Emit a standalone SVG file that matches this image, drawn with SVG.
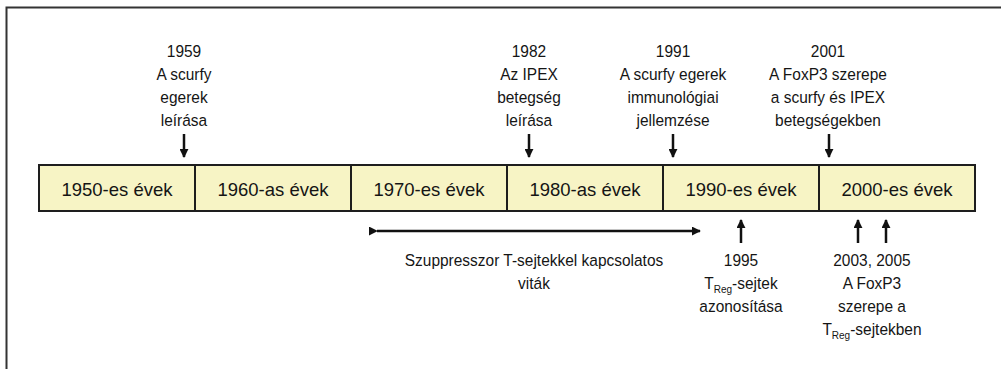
<svg xmlns="http://www.w3.org/2000/svg" width="1001" height="369" viewBox="0 0 1001 369">
<style>
text{font-family:"Liberation Sans",Arial,sans-serif;fill:#151515;text-anchor:middle}
.ann{font-size:17px}
.lbl{font-size:18.5px}
.sub{font-size:11px}
.cell{fill:#F7F4C5;stroke:#1e1e1e;stroke-width:2}
.conn{stroke:#111;stroke-width:2.5;fill:none}
.frame{stroke:#333;stroke-width:2;fill:none}
</style>
<defs>
<marker id="ah" viewBox="0 0 10 10" refX="9" refY="5" markerWidth="3.6" markerHeight="3.6" orient="auto" markerUnits="strokeWidth">
<path d="M0,0 L10,5 L0,10 z" fill="#111"/>
</marker>
</defs>
<rect width="1001" height="369" fill="#fff"/>
<path class="frame" d="M6.5,369 V7.5 H1001"/>
<g id="timeline">
<g id="c1950"><rect class="cell" x="39" y="165" width="156" height="46"/><text class="lbl" x="117" y="196">1950-es évek</text></g>
<g id="c1960"><rect class="cell" x="195" y="165" width="156" height="46"/><text class="lbl" x="273" y="196">1960-as évek</text></g>
<g id="c1970"><rect class="cell" x="351" y="165" width="156" height="46"/><text class="lbl" x="429" y="196">1970-es évek</text></g>
<g id="c1980"><rect class="cell" x="507" y="165" width="156" height="46"/><text class="lbl" x="585" y="196">1980-as évek</text></g>
<g id="c1990"><rect class="cell" x="663" y="165" width="156" height="46"/><text class="lbl" x="741" y="196">1990-es évek</text></g>
<g id="c2000"><rect class="cell" x="819" y="165" width="156" height="46"/><text class="lbl" x="897" y="196">2000-es évek</text></g>
</g>
<g transform="scale(0.91 1)">
<g id="e1959"><text class="ann" x="202.2" y="57">1959</text><text class="ann" x="202.2" y="80">A scurfy</text><text class="ann" x="202.2" y="103">egerek</text><text class="ann" x="202.2" y="126">leírása</text></g>
<g id="e1982"><text class="ann" x="581.3" y="57">1982</text><text class="ann" x="581.3" y="80">Az IPEX</text><text class="ann" x="581.3" y="103">betegség</text><text class="ann" x="581.3" y="126">leírása</text></g>
<g id="e1991"><text class="ann" x="739.6" y="57">1991</text><text class="ann" x="739.6" y="80">A scurfy egerek</text><text class="ann" x="739.6" y="103">immunológiai</text><text class="ann" x="739.6" y="126">jellemzése</text></g>
<g id="e2001"><text class="ann" x="909.9" y="57">2001</text><text class="ann" x="909.9" y="80">A FoxP3 szerepe</text><text class="ann" x="909.9" y="103">a scurfy és IPEX</text><text class="ann" x="909.9" y="126">betegségekben</text></g>
<g id="supp"><text class="ann" x="586.8" y="266">Szuppresszor T-sejtekkel kapcsolatos</text><text class="ann" x="586.8" y="289">viták</text></g>
<g id="e1995"><text class="ann" x="814.3" y="266">1995</text><text class="ann" x="814.3" y="289">T<tspan class="sub" dy="4">Reg</tspan><tspan dy="-4">-sejtek</tspan></text><text class="ann" x="814.3" y="312">azonosítása</text></g>
<g id="e2003"><text class="ann" x="958.2" y="266">2003, 2005</text><text class="ann" x="958.2" y="289">A FoxP3</text><text class="ann" x="958.2" y="312">szerepe a</text><text class="ann" x="958.2" y="335">T<tspan class="sub" dy="4">Reg</tspan><tspan dy="-4">-sejtekben</tspan></text></g>
</g>
<g id="connectors">
<line class="conn" x1="184" y1="134" x2="184" y2="157" marker-end="url(#ah)"/>
<line class="conn" x1="529" y1="134" x2="529" y2="157" marker-end="url(#ah)"/>
<line class="conn" x1="673" y1="134" x2="673" y2="157" marker-end="url(#ah)"/>
<line class="conn" x1="829" y1="134" x2="829" y2="157" marker-end="url(#ah)"/>
<line class="conn" x1="741" y1="243" x2="741" y2="220" marker-end="url(#ah)"/>
<line class="conn" x1="858" y1="243" x2="858" y2="220" marker-end="url(#ah)"/>
<line class="conn" x1="886" y1="243" x2="886" y2="220" marker-end="url(#ah)"/>
<line class="conn" x1="377" y1="231" x2="700" y2="231" marker-start="url(#ah)" marker-end="url(#ah)"/>
</g>
</svg>
